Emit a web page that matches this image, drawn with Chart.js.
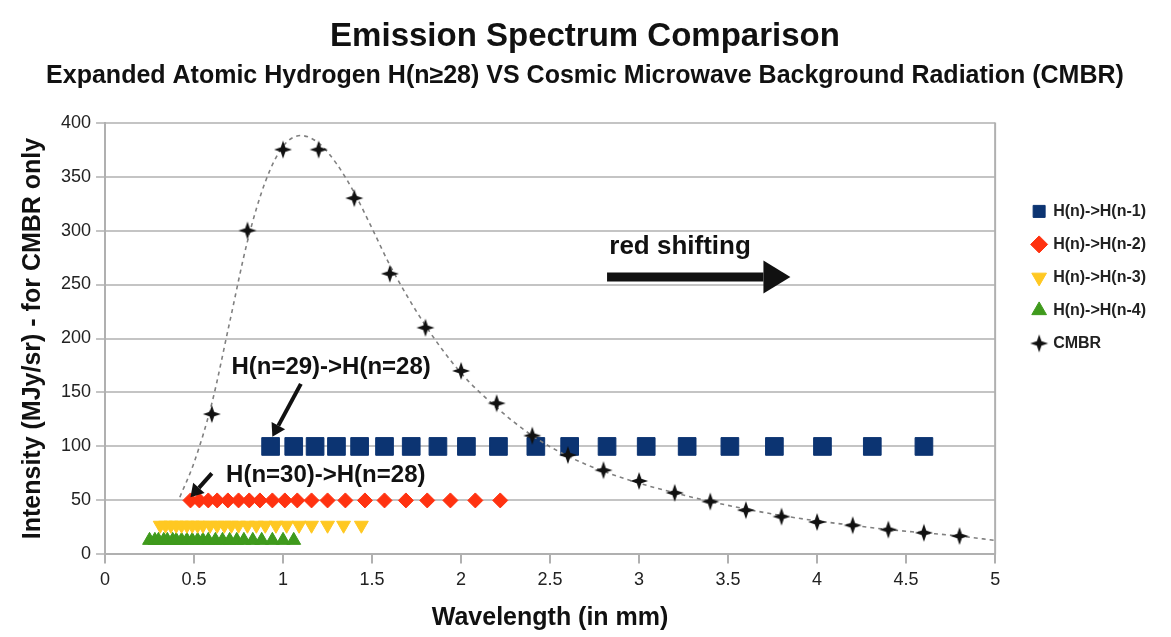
<!DOCTYPE html>
<html>
<head>
<meta charset="utf-8">
<script src="https://cdn.jsdelivr.net/npm/chart.js@4/dist/chart.umd.min.js"></script>
<style>
  body { margin: 0; background: #fff; }
  #wrap { width: 1171px; height: 637px; }
</style>
</head>
<body>
<div id="wrap"><canvas id="grafico"></canvas></div>
<script>
// valores (comprimento de onda em mm)
const xTickLabels = ['0', '0.5', '1', '1.5', '2', '2.5', '3', '3.5', '4', '4.5', '5'];
const yTickLabels = ['0', '50', '100', '150', '200', '250', '300', '350', '400'];

const h1X = [0.93, 1.06, 1.18, 1.30, 1.43, 1.57, 1.72, 1.87, 2.03, 2.21, 2.42, 2.61, 2.82, 3.04, 3.27, 3.51, 3.76, 4.03, 4.31, 4.60];
const h1Y = 100;
const h2X = [0.48, 0.53, 0.58, 0.63, 0.69, 0.75, 0.81, 0.87, 0.94, 1.01, 1.08, 1.16, 1.25, 1.35, 1.46, 1.57, 1.69, 1.81, 1.94, 2.08, 2.22];
const h2Y = 50;
const h3X = [0.31, 0.34, 0.37, 0.40, 0.43, 0.46, 0.49, 0.52, 0.55, 0.59, 0.63, 0.67, 0.71, 0.75, 0.80, 0.85, 0.90, 0.96, 1.02, 1.09, 1.16, 1.25, 1.34, 1.44];
const h3Y = 27;
const h4X = [0.25, 0.28, 0.30, 0.33, 0.35, 0.38, 0.40, 0.43, 0.46, 0.49, 0.52, 0.55, 0.58, 0.62, 0.66, 0.70, 0.74, 0.78, 0.83, 0.88, 0.94, 1.00, 1.06];
const h4Y = 13;

const cmbrX = [0.6, 0.8, 1.0, 1.2, 1.4, 1.6, 1.8, 2.0, 2.2, 2.4, 2.6, 2.8, 3.0, 3.2, 3.4, 3.6, 3.8, 4.0, 4.2, 4.4, 4.6, 4.8];
const cmbrY = [130, 300, 375, 375, 330, 260, 210, 170, 140, 110, 92, 78, 68, 57, 49, 41, 35, 30, 27, 23, 20, 17];

// curva tracejada (ajuste)
const fitX = [0.42, 0.5, 0.6, 0.7, 0.8, 0.9, 1.0, 1.1, 1.2, 1.3, 1.4, 1.5, 1.6, 1.8, 2.0, 2.2, 2.4, 2.6, 2.8, 3.0, 3.2, 3.4, 3.6, 3.8, 4.0, 4.2, 4.4, 4.6, 4.8, 5.0];
const fitY = [53, 85, 140, 215, 290, 345, 378, 388, 381, 362, 335, 302, 268, 212, 168, 136, 110, 91, 77, 66, 57, 49, 42, 36, 31, 27, 23, 20, 17, 13];

const FONT = "'Liberation Sans', Arial, sans-serif";

// anotacoes em coordenadas do grafico
const notas = [
    { text: 'H(n=29)->H(n=28)', x: 1.27, y: 173, size: 24 },
    { text: 'H(n=30)->H(n=28)', x: 1.24, y: 73, size: 24 },
    { text: 'red shifting', x: 3.23, y: 285, size: 26 }
];
const setas = [
    { x0: 1.10, y0: 158, x1: 0.94, y1: 109, width: 4, head: 14 },
    { x0: 0.60, y0: 75, x1: 0.48, y1: 53, width: 4, head: 14 },
    { x0: 2.82, y0: 257, x1: 3.85, y1: 257, width: 9, head: 30 }
];

function pontos(xs, y) {
    return xs.map((x, i) => ({ x, y: Array.isArray(y) ? y[i] : y }));
}

function estrela(size) {
    const c = document.createElement('canvas');
    c.width = c.height = size;
    const g = c.getContext('2d');
    const m = size / 2, r = size / 2 - 1, ir = r * 0.36;
    g.beginPath();
    for (let i = 0; i < 8; i++) {
        const a = i * Math.PI / 4 - Math.PI / 2;
        const rr = i % 2 === 0 ? r : ir;
        g.lineTo(m + rr * Math.cos(a), m + rr * Math.sin(a));
    }
    g.closePath();
    g.fillStyle = '#111';
    g.fill();
    return c;
}

const anotacoes = {
    id: 'anotacoes',
    afterDatasetsDraw(chart) {
        const { ctx, scales: { x, y }, chartArea } = chart;
        ctx.save();
        // borda direita
        ctx.strokeStyle = '#b0b0b0';
        ctx.lineWidth = 2;
        ctx.beginPath();
        ctx.moveTo(chartArea.right, chartArea.top);
        ctx.lineTo(chartArea.right, chartArea.bottom);
        ctx.stroke();

        ctx.fillStyle = '#111';
        ctx.textAlign = 'center';
        ctx.textBaseline = 'middle';
        notas.forEach(n => {
            ctx.font = `bold ${n.size}px ${FONT}`;
            ctx.fillText(n.text, x.getPixelForValue(n.x), y.getPixelForValue(n.y));
        });

        setas.forEach(s => {
            const px0 = x.getPixelForValue(s.x0), py0 = y.getPixelForValue(s.y0);
            const px1 = x.getPixelForValue(s.x1), py1 = y.getPixelForValue(s.y1);
            const ang = Math.atan2(py1 - py0, px1 - px0);
            const bx = px1 - Math.cos(ang) * s.head * 0.9, by = py1 - Math.sin(ang) * s.head * 0.9;
            ctx.strokeStyle = '#111';
            ctx.lineWidth = s.width;
            ctx.beginPath();
            ctx.moveTo(px0, py0);
            ctx.lineTo(bx, by);
            ctx.stroke();
            const w = s.head * 0.55;
            ctx.beginPath();
            ctx.moveTo(px1, py1);
            ctx.lineTo(bx + Math.sin(ang) * w, by - Math.cos(ang) * w);
            ctx.lineTo(bx - Math.sin(ang) * w, by + Math.cos(ang) * w);
            ctx.closePath();
            ctx.fill();
        });
        ctx.restore();
    }
};

const star = estrela(20);

new Chart(document.getElementById('grafico'), {
    type: 'scatter',
    data: {
        datasets: [
            {
                label: 'H(n)->H(n-1)',
                data: pontos(h1X, h1Y),
                pointStyle: 'rect',
                pointRadius: 12.5,
                backgroundColor: '#0c3472',
                borderColor: '#0c3472',
                borderWidth: 1,
                order: 2
            },
            {
                label: 'H(n)->H(n-2)',
                data: pontos(h2X, h2Y),
                pointStyle: 'rectRot',
                pointRadius: 7.5,
                backgroundColor: '#ff3210',
                borderColor: '#ff3210',
                borderWidth: 1,
                order: 3
            },
            {
                label: 'H(n)->H(n-3)',
                data: pontos(h3X, h3Y),
                pointStyle: 'triangle',
                rotation: 180,
                pointRadius: 8,
                backgroundColor: '#ffc822',
                borderColor: '#ffc822',
                borderWidth: 1,
                order: 4
            },
            {
                label: 'H(n)->H(n-4)',
                data: pontos(h4X, h4Y),
                pointStyle: 'triangle',
                pointRadius: 8,
                backgroundColor: '#3f9a1c',
                borderColor: '#3f9a1c',
                borderWidth: 1,
                order: 5
            },
            {
                label: 'CMBR',
                data: pontos(cmbrX, cmbrY),
                pointStyle: star,
                pointRadius: 10,
                backgroundColor: '#111',
                borderColor: '#111',
                order: 0
            },
            {
                label: 'fit',
                data: pontos(fitX, fitY),
                showLine: true,
                borderColor: '#808080',
                borderWidth: 1.6,
                borderDash: [4, 4],
                cubicInterpolationMode: 'monotone',
                pointRadius: 0,
                order: 1
            }
        ]
    },
    options: {
        responsive: true,
        maintainAspectRatio: false,
        animation: false,
        layout: { padding: { left: 14, right: 15, top: 0, bottom: 0 } },
        plugins: {
            tooltip: { enabled: false },
            title: {
                display: true,
                text: 'Emission Spectrum Comparison',
                color: '#111',
                font: { family: FONT, size: 33, weight: 'bold' },
                padding: { top: 17, bottom: 5 }
            },
            subtitle: {
                display: true,
                text: 'Expanded Atomic Hydrogen H(n\u226528) VS Cosmic Microwave Background Radiation (CMBR)',
                color: '#111',
                font: { family: FONT, size: 25, weight: 'bold' },
                padding: { bottom: 31 }
            },
            legend: {
                position: 'right',
                align: 'start',
                title: { display: true, text: ' ', padding: { top: 172, bottom: 0 } },
                labels: {
                    usePointStyle: true,
                    boxWidth: 12,
                    boxHeight: 12,
                    padding: 17,
                    color: '#222',
                    font: { family: FONT, size: 16, weight: 'bold' },
                    filter: item => item.text !== 'fit',
                    sort: (a, b) => a.datasetIndex - b.datasetIndex
                }
            }
        },
        scales: {
            x: {
                type: 'linear',
                min: 0,
                max: 5,
                ticks: {
                    stepSize: 0.5,
                    color: '#222',
                    padding: 6,
                    font: { family: FONT, size: 18 },
                    callback: (v, i) => xTickLabels[i]
                },
                grid: { drawOnChartArea: false, drawTicks: true, tickLength: 9, color: '#b0b0b0', lineWidth: 2 },
                border: { color: '#b0b0b0', width: 2 },
                title: {
                    display: true,
                    text: 'Wavelength (in mm)',
                    color: '#111',
                    font: { family: FONT, size: 25, weight: 'bold' },
                    padding: { top: 6 }
                }
            },
            y: {
                min: 0,
                max: 400,
                ticks: {
                    stepSize: 50,
                    color: '#222',
                    padding: 5,
                    font: { family: FONT, size: 18 },
                    callback: (v, i) => yTickLabels[i]
                },
                grid: { color: '#c4c4c4', lineWidth: 2, tickLength: 9 },
                border: { color: '#b0b0b0', width: 2 },
                title: {
                    display: true,
                    text: 'Intensity (MJy/sr) - for CMBR only',
                    color: '#111',
                    font: { family: FONT, size: 25, weight: 'bold' },
                    padding: { bottom: 8 }
                }
            },
            yR: {
                position: 'right',
                display: true,
                ticks: { display: false },
                grid: { display: false },
                border: { display: false },
                afterFit: s => { s.width = 21; }
            }
        }
    },
    plugins: [anotacoes]
});
</script>
</body>
</html>
